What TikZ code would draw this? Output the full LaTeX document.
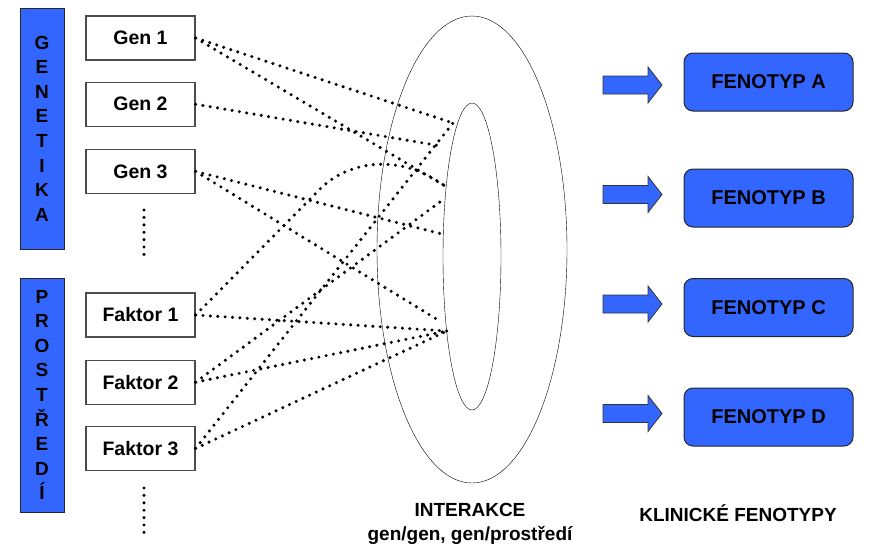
\documentclass[tikz,border=0pt]{standalone}
\usepackage{fontspec}
\setmainfont{Liberation Sans}
\usepackage{tikz}
\usetikzlibrary{positioning,shapes.geometric}
\definecolor{fenoblue}{RGB}{51,102,255}
\tikzstyle{genbox} = [draw=black!70, fill=white, line width=1.2pt,
    rectangle, minimum width=109, minimum height=44, inner sep=0,
    font=\bfseries\fontsize{19.5}{22}\selectfont]
\tikzstyle{sidebar} = [draw=black!85, fill=fenoblue, line width=1pt,
    rectangle, minimum width=44, inner sep=0, align=center,
    font=\bfseries\fontsize{19}{24.6}\selectfont]
\tikzstyle{fenobox} = [draw=black!85, fill=fenoblue, line width=1pt,
    rectangle, rounded corners=9pt, minimum width=169, minimum height=58,
    font=\bfseries\fontsize{20}{22}\selectfont]
\tikzstyle{blockarrow} = [draw=black!80, fill=fenoblue, line width=0.8pt]
\tikzstyle{dots} = [line width=3.4pt, line cap=round, dash pattern=on 0pt off 7.4pt]
\tikzstyle{caption} = [align=center, font=\bfseries\fontsize{19}{24}\selectfont]

\begin{document}
\begin{tikzpicture}[x=1pt,y=-1pt]
\useasboundingbox (0,0) rectangle (870,550);
% left side
\node[sidebar, minimum height=241] (genetika) at (42,128.5) {G\\E\\N\\E\\T\\I\\K\\A};
\node[sidebar, minimum height=234] (prostredi) at (42,395) {P\\R\\O\\S\\T\\Ř\\E\\D\\Í};
\node[genbox] (gen1) at (140.5,38) {Gen 1};
\node[genbox, below=21pt of gen1] (gen2) {Gen 2};
\node[genbox, below=22pt of gen2] (gen3) {Gen 3};
\node[genbox] (faktor1) at (140.5,315) {Faktor 1};
\node[genbox, below=22pt of faktor1] (faktor2) {Faktor 2};
\node[genbox, below=21pt of faktor2] (faktor3) {Faktor 3};
\draw[dots] (144,210) -- (144,258);
\draw[dots] (144,488) -- (144,535);
% interaction ring
\node[ellipse, draw, thin, minimum width=190, minimum height=467, inner sep=0] (ring) at (472,249.5) {};
\node[ellipse, draw, thin, minimum width=58, minimum height=307, inner sep=0] (hole) at (472,256.5) {};
\coordinate (pA) at (453,123);
\coordinate (pB) at (441,146);
\coordinate (pC) at (445,186);
\coordinate (pF) at (444,199);
\coordinate (pD) at (442,234);
\coordinate (pE1) at (438,320);
\coordinate (pE) at (447,331);
\coordinate (bend) at (320,189);
\foreach \from/\to in {gen1/pA, gen1/pC, gen2/pB, gen3/pD, gen3/pE1,
    faktor1/pE, faktor2/pF, faktor2/pE, faktor3/pA, faktor3/pE}
    \draw[dots] (\from.east) -- (\to);
\draw[dots] (faktor1.east) -- (bend) .. controls (345,164) and (395,150) .. (pC);
\node[caption] (interakce) at (470,524) {INTERAKCE\\gen/gen, gen/prostředí};
% phenotypes
\foreach \y in {85,194.5,304,413.5}
    \draw[blockarrow] (603,\y-9) -- (648,\y-9) -- (648,\y-18) -- (662,\y)
        -- (648,\y+18) -- (648,\y+9) -- (603,\y+9) -- cycle;
\node[fenobox] (fenA) at (768.5,82) {FENOTYP A};
\node[fenobox] (fenB) at (768.5,198) {FENOTYP B};
\node[fenobox] (fenC) at (768.5,307.5) {FENOTYP C};
\node[fenobox] (fenD) at (768.5,417) {FENOTYP D};
\node[caption] (klinicke) at (738,513) {KLINICKÉ FENOTYPY};
\end{tikzpicture}
\end{document}
